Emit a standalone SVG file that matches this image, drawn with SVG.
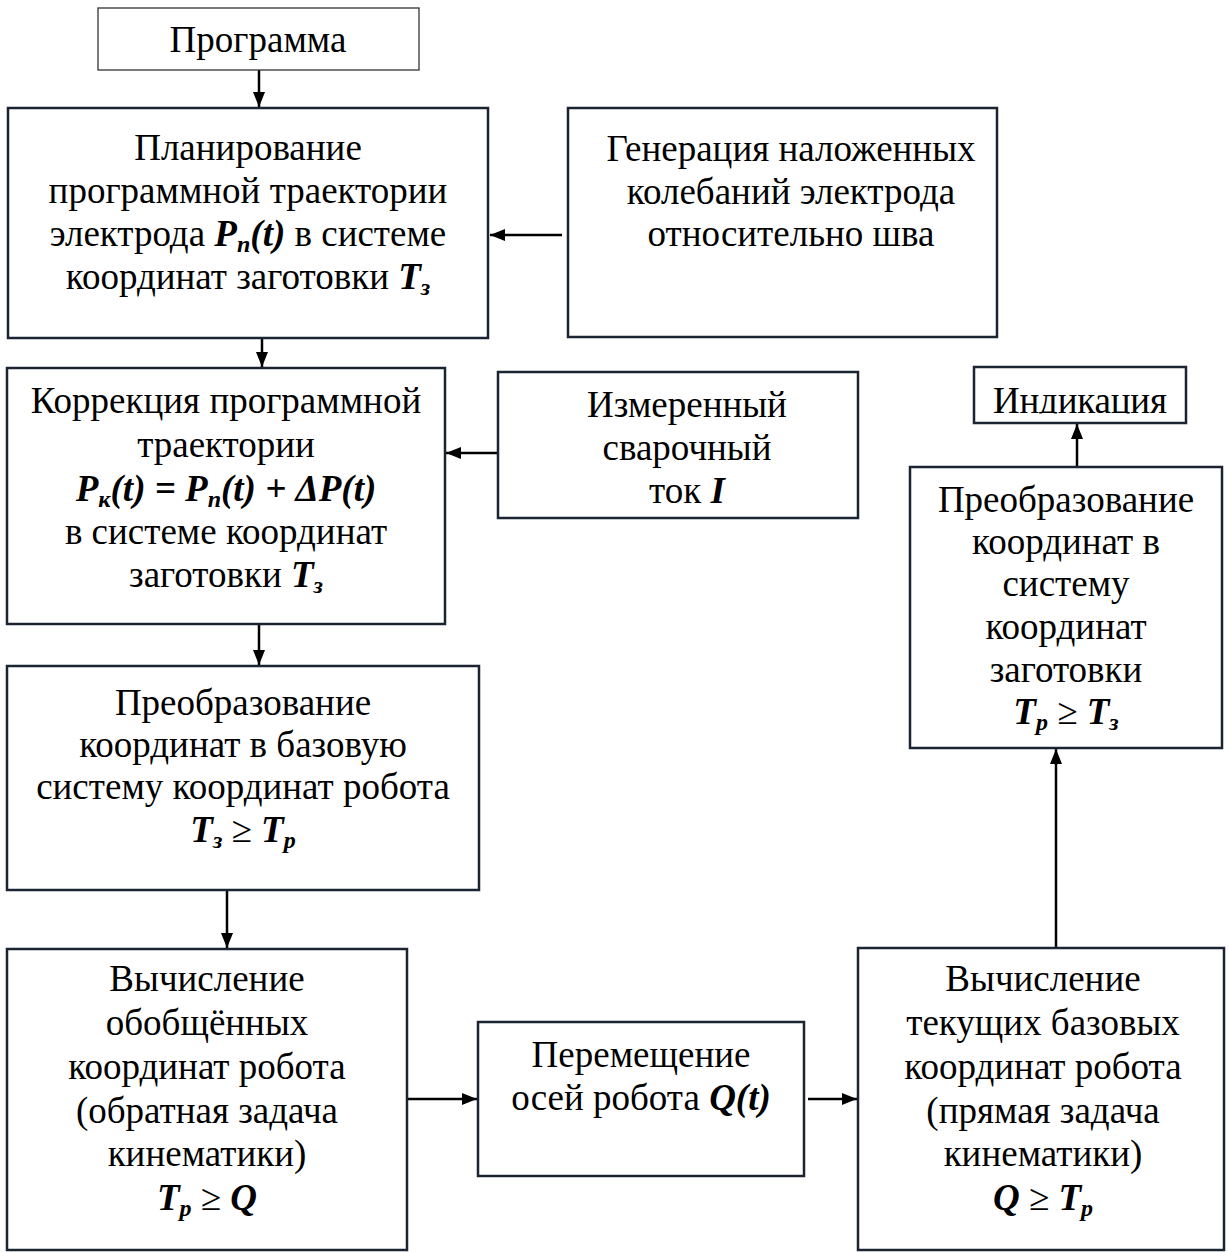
<svg xmlns="http://www.w3.org/2000/svg" width="1229" height="1252" viewBox="0 0 1229 1252">
<style>
.box{fill:#fff;stroke:#1b2430;stroke-width:2.5}
.thin{fill:#fff;stroke:#333;stroke-width:1.3}
text{font-family:"Liberation Serif","Times New Roman",serif;font-size:37px;fill:#000;text-anchor:middle}
.f{font-weight:bold;font-style:italic}
.s{font-size:24px}
.con{stroke:#000;stroke-width:2.5;fill:none;marker-end:url(#ah)}
</style>
<defs>
<marker id="ah" viewBox="0 0 15 12" refX="15" refY="6" markerWidth="15" markerHeight="12" markerUnits="userSpaceOnUse" orient="auto">
<path d="M0,0 L15,6 L0,12 z" fill="#000"/>
</marker>
<clipPath id="clipE"><rect x="974" y="367" width="212" height="46.6"/></clipPath>
</defs>
<rect width="1229" height="1252" fill="#fff"/>
<g id="connectors">
<line class="con" x1="259" y1="70" x2="259" y2="107"/>
<line class="con" x1="562" y1="235" x2="490" y2="235"/>
<line class="con" x1="262" y1="338" x2="262" y2="367"/>
<line class="con" x1="508" y1="453" x2="446" y2="453"/>
<line class="con" x1="259" y1="624" x2="259" y2="665"/>
<line class="con" x1="227" y1="890" x2="227" y2="948"/>
<line class="con" x1="407" y1="1099" x2="477" y2="1099"/>
<line class="con" x1="808" y1="1099" x2="857" y2="1099"/>
<line class="con" x1="1056" y1="948" x2="1056" y2="749"/>
<line class="con" x1="1077" y1="467" x2="1077" y2="424"/>
</g>
<g id="programma">
<rect class="thin" x="98" y="8" width="321" height="62"/>
<text x="258" y="52">Программа</text>
</g>
<g id="planning">
<rect class="box" x="8" y="108" width="480" height="230"/>
<text x="248" y="160">Планирование</text>
<text x="248" y="203">программной траектории</text>
<text x="248" y="246">электрода <tspan class="f">P<tspan class="s" dy="6">п</tspan><tspan dy="-6">(t)</tspan></tspan> в системе</text>
<text x="248" y="289">координат заготовки <tspan class="f">T<tspan class="s" dy="6">з</tspan></tspan></text>
</g>
<g id="generation">
<rect class="box" x="568" y="108" width="429" height="229"/>
<text x="791" y="161">Генерация наложенных</text>
<text x="791" y="204">колебаний электрода</text>
<text x="791" y="246">относительно шва</text>
</g>
<g id="correction">
<rect class="box" x="7" y="368" width="438" height="256"/>
<text x="226" y="413">Коррекция программной</text>
<text x="226" y="457">траектории</text>
<text x="226" y="501" class="f">P<tspan class="s" dy="6">к</tspan><tspan dy="-6">(t) = P</tspan><tspan class="s" dy="6">п</tspan><tspan dy="-6">(t) + ΔP(t)</tspan></text>
<text x="226" y="544">в системе координат</text>
<text x="226" y="587">заготовки <tspan class="f">T<tspan class="s" dy="6">з</tspan></tspan></text>
</g>
<g id="current">
<rect class="box" x="498" y="372" width="360" height="146"/>
<text x="687" y="417">Измеренный</text>
<text x="687" y="460">сварочный</text>
<text x="687" y="503">ток <tspan class="f">I</tspan></text>
</g>
<g id="indication">
<rect class="box" x="974" y="367" width="212" height="56"/>
<text x="1080" y="413" clip-path="url(#clipE)" textLength="174" lengthAdjust="spacing">Индикация</text>
</g>
<g id="to-workpiece">
<rect class="box" x="910" y="467" width="312" height="281"/>
<text x="1066" y="512">Преобразование</text>
<text x="1066" y="554">координат в</text>
<text x="1066" y="596">систему</text>
<text x="1066" y="639">координат</text>
<text x="1066" y="682">заготовки</text>
<text x="1066" y="724" class="f">T<tspan class="s" dy="6">р</tspan><tspan dy="-6" font-weight="normal" font-style="normal"> ≥ </tspan>T<tspan class="s" dy="6">з</tspan></text>
</g>
<g id="to-base">
<rect class="box" x="7" y="666" width="472" height="224"/>
<text x="243" y="715">Преобразование</text>
<text x="243" y="757">координат в базовую</text>
<text x="243" y="799">систему координат робота</text>
<text x="243" y="842" class="f">T<tspan class="s" dy="6">з</tspan><tspan dy="-6" font-weight="normal" font-style="normal"> ≥ </tspan>T<tspan class="s" dy="6">р</tspan></text>
</g>
<g id="inverse">
<rect class="box" x="7" y="949" width="400" height="301"/>
<text x="207" y="991">Вычисление</text>
<text x="207" y="1035">обобщённых</text>
<text x="207" y="1079">координат робота</text>
<text x="207" y="1123">(обратная задача</text>
<text x="207" y="1166">кинематики)</text>
<text x="207" y="1210" class="f">T<tspan class="s" dy="6">р</tspan><tspan dy="-6" font-weight="normal" font-style="normal"> ≥ </tspan>Q</text>
</g>
<g id="motion">
<rect class="box" x="478" y="1022" width="326" height="154"/>
<text x="641" y="1067">Перемещение</text>
<text x="641" y="1110">осей робота <tspan class="f">Q(t)</tspan></text>
</g>
<g id="forward">
<rect class="box" x="858" y="948" width="366" height="302"/>
<text x="1043" y="991">Вычисление</text>
<text x="1043" y="1035">текущих базовых</text>
<text x="1043" y="1079">координат робота</text>
<text x="1043" y="1123">(прямая задача</text>
<text x="1043" y="1166">кинематики)</text>
<text x="1043" y="1210" class="f">Q<tspan font-weight="normal" font-style="normal"> ≥ </tspan>T<tspan class="s" dy="6">р</tspan></text>
</g>
</svg>
